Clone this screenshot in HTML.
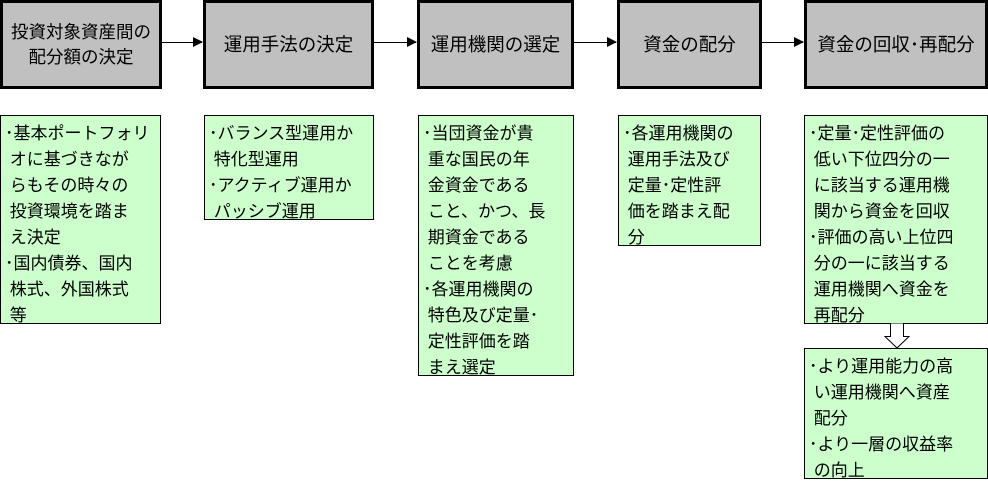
<!DOCTYPE html>
<html><head><meta charset="utf-8"><style>
body{margin:0;width:988px;height:480px;background:#fff;position:relative;overflow:hidden;font-family:"Liberation Sans","Noto Sans CJK JP",sans-serif;color:#000}
.g{position:absolute;background:#c0c0c0;border:3px solid #000;box-sizing:border-box;display:flex;align-items:center;justify-content:center;text-align:center;font-size:18.5px;line-height:25px}
.n{position:absolute;background:#ccffcc;border:1px solid #000;box-sizing:border-box;font-size:17px;line-height:26px;padding:5px 0 0 4px;white-space:pre}
.a{position:absolute;height:1px;background:#000;top:42px}
.a:after{content:"";position:absolute;right:-1px;top:-5px;border-left:10px solid #000;border-top:5px solid transparent;border-bottom:5px solid transparent}
</style></head><body>
<div class="g" style="left:0;top:0;width:162px;height:89px;font-size:17.5px">投資対象資産間の<br>配分額の決定</div>
<div class="g" style="left:203px;top:0;width:171px;height:89px">運用手法の決定</div>
<div class="g" style="left:417px;top:0;width:157px;height:89px">運用機関の選定</div>
<div class="g" style="left:617px;top:0;width:145px;height:89px">資金の配分</div>
<div class="g" style="left:804px;top:0;width:184px;height:89px">資金の回収･再配分</div>
<div class="a" style="left:162px;width:40px"></div>
<div class="a" style="left:374px;width:42px"></div>
<div class="a" style="left:574px;width:42px"></div>
<div class="a" style="left:762px;width:41px"></div>
<div class="n" style="left:0;top:115px;width:161px;height:209px">･基本ポートフォリ
 オに基づきなが
 らもその時々の
 投資環境を踏ま
 え決定
･国内債券、国内
 株式、外国株式
 等</div>
<div class="n" style="left:204px;top:115px;width:170px;height:105px">･バランス型運用か
 特化型運用
･アクティブ運用か
 パッシブ運用</div>
<div class="n" style="left:418px;top:115px;width:156px;height:261px">･当団資金が貴
 重な国民の年
 金資金である
 こと、かつ、長
 期資金である
 ことを考慮
･各運用機関の
 特色及び定量･
 定性評価を踏
 まえ選定</div>
<div class="n" style="left:618px;top:115px;width:143px;height:131px">･各運用機関の
 運用手法及び
 定量･定性評
 価を踏まえ配
 分</div>
<div class="n" style="left:804px;top:115px;width:184px;height:209px">･定量･定性評価の
 低い下位四分の一
 に該当する運用機
 関から資金を回収
･評価の高い上位四
 分の一に該当する
 運用機関へ資金を
 再配分</div>
<svg style="position:absolute;left:884px;top:323px" width="26" height="26"><path d="M6.5 0.5 V13.5 H1 L13 25 L25 13.5 H19.5 V0.5" fill="#fff" stroke="#000"/></svg>
<div class="n" style="left:804px;top:348px;width:184px;height:131px">･より運用能力の高
 い運用機関へ資産
 配分
･より一層の収益率
 の向上</div>
</body></html>
